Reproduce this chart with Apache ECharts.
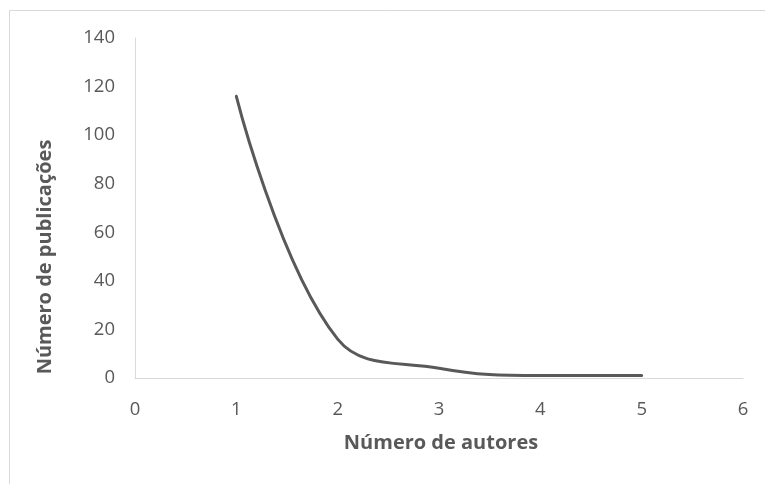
<!DOCTYPE html>
<html>
<head>
<meta charset="utf-8">
<script src="https://cdn.jsdelivr.net/npm/echarts@6/dist/echarts.min.js"></script>
<style>
html,body{margin:0;padding:0;background:#fff;}
#chart{width:765px;height:484px;}
</style>
</head>
<body>
<div id="chart"></div>
<script>
var authors = [1, 2, 3, 4, 5];
var publications = [116, 16, 4, 1, 1];
var xTitle = 'Número de autores';
var yTitle = 'Número de publicações';

var chart = echarts.init(document.getElementById('chart'), null, {renderer: 'canvas'});
var font = '"Open Sans", "Noto Sans", sans-serif';
chart.setOption({
  animation: false,
  backgroundColor: '#fff',
  graphic: [{
    type: 'rect', silent: true, z: -1,
    shape: {x: 9.5, y: 10.5, width: 800, height: 500},
    style: {fill: 'none', stroke: '#d9d9d9', lineWidth: 1}
  }, {
    type: 'text', silent: true,
    x: 45, y: 257, rotation: Math.PI / 2,
    style: {text: yTitle, fill: '#595959', font: 'bold 20px ' + font, align: 'center', verticalAlign: 'middle'}
  }, {
    type: 'text', silent: true,
    x: 441, y: 443,
    style: {text: xTitle, fill: '#595959', font: 'bold 20px ' + font, align: 'center', verticalAlign: 'middle'}
  }],
  grid: {left: 135, right: 22, top: 38, bottom: 106, containLabel: false},
  xAxis: {
    type: 'value', min: 0, max: 6, interval: 1,
    axisLine: {show: true, lineStyle: {color: '#d9d9d9', width: 1}},
    axisTick: {show: false},
    splitLine: {show: false},
    axisLabel: {fontFamily: font, fontSize: 18.5, color: '#595959', margin: 22}
  },
  yAxis: {
    type: 'value', min: 0, max: 140, interval: 20,
    axisLine: {show: true, lineStyle: {color: '#d9d9d9', width: 1}},
    axisTick: {show: false},
    splitLine: {show: false},
    axisLabel: {fontFamily: font, fontSize: 18.5, color: '#595959', margin: 20}
  },
  series: [{
    type: 'line',
    data: authors.map(function (a, i) { return [a, publications[i]]; }),
    smooth: 0.4,
    showSymbol: false,
    symbol: 'none',
    lineStyle: {color: '#595959', width: 3, cap: 'round'}
  }]
});
</script>
</body>
</html>
